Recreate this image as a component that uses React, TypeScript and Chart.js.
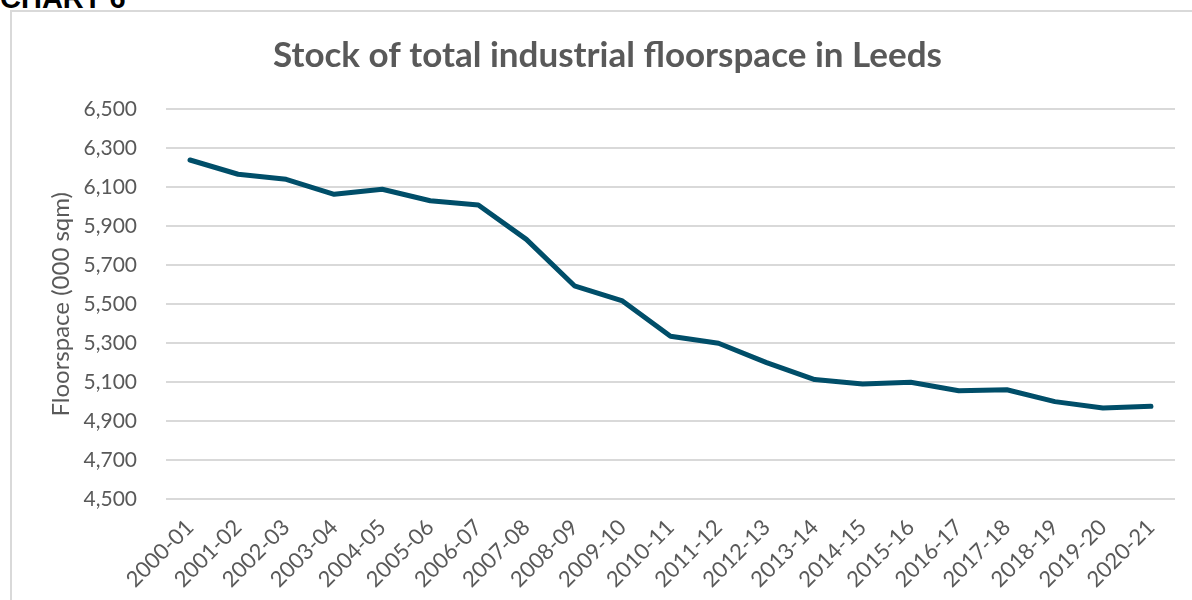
import React, { useEffect, useRef } from "react";
import { Chart, registerables } from "chart.js";

Chart.register(...registerables);

const categories = [
  "2000-01", "2001-02", "2002-03", "2003-04", "2004-05", "2005-06", "2006-07",
  "2007-08", "2008-09", "2009-10", "2010-11", "2011-12", "2012-13", "2013-14",
  "2014-15", "2015-16", "2016-17", "2017-18", "2018-19", "2019-20", "2020-21",
];

const floorspace = [
  6240, 6167, 6141, 6064, 6090, 6031, 6009, 5833, 5595, 5517, 5336,
  5300, 5201, 5114, 5091, 5100, 5057, 5062, 5001, 4968, 4977,
];

const yMin = 4500;
const yMax = 6500;
const yStep = 200;

const titleText = "Stock of total industrial floorspace in Leeds";
const yAxisTitle = "Floorspace (000 sqm)";
const headerText = "CHART 6";

export default function App() {
  const canvasRef = useRef<HTMLCanvasElement | null>(null);

  useEffect(() => {
    const canvas = canvasRef.current;
    if (!canvas) return;
    const chart = new Chart(canvas, {
      type: "line",
      data: {
        labels: categories,
        datasets: [
          {
            label: "Floorspace",
            data: floorspace,
            borderColor: "#004e69",
            backgroundColor: "#004e69",
            borderWidth: 5,
            borderCapStyle: "round",
            borderJoinStyle: "round",
            pointRadius: 0,
            pointHoverRadius: 0,
            tension: 0,
            fill: false,
          },
        ],
      },
      options: {
        responsive: false,
        animation: false,
        maintainAspectRatio: false,
        locale: "en-US",
        layout: { padding: { left: 40, right: 17, top: 0, bottom: 0 } },
        plugins: {
          legend: { display: false },
          tooltip: { enabled: false },
          title: {
            display: true,
            text: titleText,
            color: "#595959",
            font: { family: "Lato", size: 35, weight: "bold", lineHeight: 1.2 },
            padding: { top: 35, bottom: 32.3 },
          },
        },
        scales: {
          x: {
            type: "category",
            offset: true,
            grid: { display: false, drawTicks: false },
            border: { display: false },
            ticks: {
              color: "#595959",
              font: { family: "Lato", size: 22 },
              minRotation: 45,
              maxRotation: 45,
              autoSkip: false,
              padding: 15,
            },
            afterFit: (scale: any) => {
              scale.height = 100.7;
            },
          },
          y: {
            min: yMin,
            max: yMax,
            grid: { color: "#d9d9d9", lineWidth: 2, drawTicks: false },
            border: { display: false },
            ticks: {
              stepSize: yStep,
              color: "#595959",
              font: { family: "Lato", size: 21 },
              padding: 29,
              callback: (v: any) => Number(v).toLocaleString("en-US"),
            },
            title: {
              display: true,
              text: yAxisTitle,
              color: "#595959",
              font: { family: "Lato", size: 24 },
              padding: { top: 7, bottom: 0 },
            },
            afterFit: (scale: any) => {
              scale.width = 126;
            },
          },
        },
      },
    });
    return () => chart.destroy();
  }, []);

  return (
    <div style={{ position: "fixed", left: 0, top: 0, width: 1192, height: 600, overflow: "hidden", background: "#fff" }}>
      <div
        style={{
          position: "absolute",
          left: 0,
          top: -16.5,
          fontFamily: "'Liberation Sans', Arial, sans-serif",
          fontWeight: "bold",
          fontSize: 29,
          lineHeight: "29px",
          color: "#000",
          whiteSpace: "nowrap",
        }}
      >
        {headerText}
      </div>
      <div
        style={{
          position: "absolute",
          left: 10,
          top: 10,
          width: 1300,
          height: 700,
          borderLeft: "2px solid #d9d9d9",
          borderTop: "2px solid #d9d9d9",
        }}
      />
      <canvas
        ref={canvasRef}
        width={1192}
        height={600}
        style={{ position: "absolute", left: 0, top: 0, width: 1192, height: 600 }}
      />
    </div>
  );
}
